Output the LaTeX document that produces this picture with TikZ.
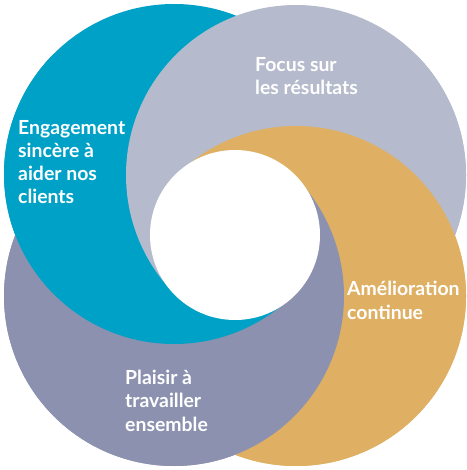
\documentclass[tikz,border=0pt]{standalone}
\usepackage{fontspec}
\setmainfont{Lato}
\definecolor{cblue}{RGB}{0,161,198}
\definecolor{cgrey}{RGB}{181,187,204}
\definecolor{cgold}{RGB}{223,176,99}
\definecolor{cpurp}{RGB}{139,145,175}
\tikzset{
  lbl/.style={text=white,font=\fontsize{19.4}{23.2}\selectfont\bfseries,align=left,inner sep=0pt,anchor=base west}
}
\begin{document}
\begin{tikzpicture}[x=1pt,y=-1pt]
\useasboundingbox (0,0) rectangle (466,470);
\coordinate (B) at (174,174);
\coordinate (G) at (296,175);
\coordinate (O) at (296,296);
\coordinate (P) at (174,296);
\coordinate (C) at (235,235);
\coordinate (NW) at (-300,-300);
\coordinate (NE) at (770,-300);
\coordinate (SE) at (770,770);
\coordinate (SW) at (-300,770);
% top sector order (used everywhere first): purple, blue, grey, gold
\fill[cpurp] (P) circle (170pt);
\fill[cblue] (B) circle (170pt);
\fill[cgrey] (G) circle (170pt);
\fill[cgold] (O) circle (170pt);
% right sector: blue, grey, gold, purple
\begin{scope}
\clip (C) -- (NE) -- (SE) -- cycle;
\begin{scope}[transparency group]
\fill[cblue] (B) circle (170pt);
\fill[cgrey] (G) circle (170pt);
\fill[cgold] (O) circle (170pt);
\fill[cpurp] (P) circle (170pt);
\end{scope}
\end{scope}
% bottom sector: grey, gold, purple, blue
\begin{scope}
\clip (C) -- (SE) -- (SW) -- cycle;
\begin{scope}[transparency group]
\fill[cgrey] (G) circle (170pt);
\fill[cgold] (O) circle (170pt);
\fill[cpurp] (P) circle (170pt);
\fill[cblue] (B) circle (170pt);
\end{scope}
\end{scope}
% left sector: gold, purple, blue, grey
\begin{scope}
\clip (C) -- (SW) -- (NW) -- cycle;
\begin{scope}[transparency group]
\fill[cgold] (O) circle (170pt);
\fill[cpurp] (P) circle (170pt);
\fill[cblue] (B) circle (170pt);
\fill[cgrey] (G) circle (170pt);
\end{scope}
\end{scope}
\fill[white] (C) circle (85pt);
\node[lbl] (t1) at (18,204) {Engagement\\sincère à\\aider nos\\clients};
\node[lbl] (t2) at (255,95) {Focus sur\\les résultats};
\node[lbl] (t3) at (347,319) {Amélioration\\continue};
\node[lbl] (t4) at (125,431) {Plaisir à\\travailler\\ensemble};
\end{tikzpicture}
\end{document}
